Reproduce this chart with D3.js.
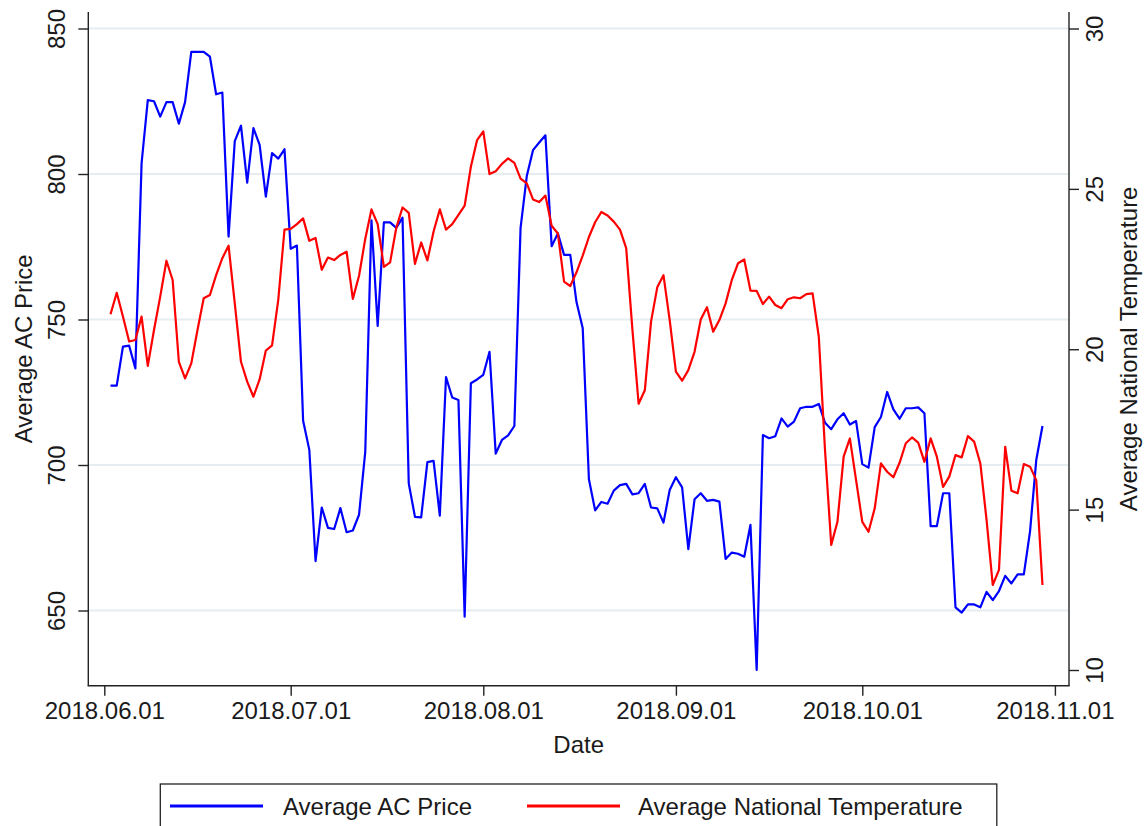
<!DOCTYPE html>
<html><head><meta charset="utf-8">
<script src="https://cdn.jsdelivr.net/npm/d3@7"></script>
<style>
body{margin:0;background:#fff}
svg{display:block}
text{font-family:"Liberation Sans",Arial,sans-serif;fill:#1a1a1a}
</style>
</head><body>
<svg id="chart" width="1148" height="826"></svg>
<script>
// ---------- data ----------
const startDate = "2018-06-02"; // first observation, daily series
const acPrice = [
727.3,727.3,740.7,741.0,733.2,803.7,825.4,825.0,819.7,824.7,
824.7,817.3,824.7,842.0,842.0,842.0,840.3,827.4,828.0,778.5,
811.3,816.6,797.0,815.8,810.0,792.2,807.2,805.3,808.5,774.3,
775.4,715.2,705.2,667.0,685.4,678.4,678.0,685.2,676.9,677.5,
682.9,704.5,784.1,747.8,783.4,783.4,781.5,785.0,693.7,682.2,
682.0,701.0,701.4,682.6,730.2,723.2,722.3,647.9,728.1,729.4,
731.0,738.9,703.9,708.6,710.2,713.4,781.5,799.3,808.2,810.8,
813.3,775.2,779.6,772.2,772.2,756.0,747.1,695.1,684.4,687.3,
686.7,691.2,693.1,693.5,689.9,690.3,693.5,685.4,685.1,680.2,
691.4,695.8,692.3,671.1,688.2,690.3,687.7,688.0,687.4,667.7,
669.9,669.5,668.5,679.4,629.6,710.3,709.2,709.9,716.0,713.2,
714.9,719.5,720.0,720.0,721.0,714.5,712.3,715.7,717.8,713.9,
715.1,700.3,699.1,713.0,716.5,725.1,719.1,715.9,719.5,719.5,
719.8,717.8,679.0,679.0,690.3,690.3,651.1,649.3,652.1,652.1,
651.1,656.4,653.6,656.7,661.9,659.3,662.4,662.4,677.2,701.7,
713.4
];
const temperature = [
21.09,21.76,21.02,20.24,20.29,21.02,19.48,20.60,21.64,22.76,
22.16,19.61,19.09,19.56,20.60,21.59,21.69,22.31,22.84,23.23,
21.43,19.61,18.99,18.52,19.06,19.96,20.12,21.54,23.73,23.75,
23.90,24.08,23.38,23.47,22.48,22.86,22.78,22.94,23.04,21.57,
22.29,23.44,24.36,23.90,22.57,22.71,23.79,24.42,24.25,22.66,
23.33,22.77,23.67,24.36,23.73,23.90,24.19,24.48,25.69,26.52,
26.79,25.46,25.55,25.78,25.95,25.81,25.32,25.17,24.67,24.59,
24.79,23.85,23.61,22.11,21.97,22.40,22.92,23.50,23.96,24.28,
24.17,23.98,23.73,23.15,20.61,18.30,18.72,20.86,21.93,22.31,
20.91,19.30,19.02,19.35,19.92,20.93,21.31,20.55,20.91,21.43,
22.16,22.68,22.80,21.83,21.82,21.41,21.64,21.38,21.28,21.56,
21.62,21.59,21.72,21.74,20.39,16.86,13.90,14.62,16.65,17.22,
15.92,14.62,14.31,15.04,16.44,16.18,16.01,16.46,17.07,17.25,
17.09,16.49,17.22,16.65,15.71,16.03,16.70,16.63,17.29,17.12,
16.44,14.68,12.65,13.12,16.96,15.59,15.51,16.42,16.34,15.92,
12.65
];
const xTickLabels = ["2018.06.01","2018.07.01","2018.08.01","2018.09.01","2018.10.01","2018.11.01"];
const leftTicks = [650,700,750,800,850];
const rightTicks = [10,15,20,25,30];
const seriesNames = ["Average AC Price","Average National Temperature"];
const seriesColors = ["#0000ff","#ff0000"];
const axisTitles = {left:"Average AC Price", right:"Average National Temperature", bottom:"Date"};

// ---------- layout ----------
const plotL = 88.3, plotR = 1069, plotT = 12, plotB = 685.7;
const svg = d3.select("#chart");
const parseDay = d3.timeParse("%Y-%m-%d");
const parseTick = d3.timeParse("%Y.%m.%d");
const fmtTick = d3.timeFormat("%Y.%m.%d");
const t0 = parseDay(startDate);
const dates = acPrice.map((_, i) => d3.timeDay.offset(t0, i));
const tickDates = xTickLabels.map(parseTick);

const x = d3.scaleTime().domain([tickDates[0], tickDates[tickDates.length-1]]).range([104.3, 1054.9]);
const yL = d3.scaleLinear().domain([650, 850]).range([610.5, 28.5]);
const yR = d3.scaleLinear().domain([10, 30]).range([670, 28.5]);

svg.append("rect").attr("width",1148).attr("height",826).attr("fill","#fff");

// gridlines
svg.append("g").selectAll("line").data(leftTicks).join("line")
  .attr("x1", plotL).attr("x2", plotR)
  .attr("y1", d => yL(d)).attr("y2", d => yL(d))
  .attr("stroke", "#e6edf1").attr("stroke-width", 2);

// series
const lineL = d3.line().x((d,i) => x(dates[i])).y(d => yL(d));
const lineR = d3.line().x((d,i) => x(dates[i])).y(d => yR(d));
svg.append("path").datum(acPrice).attr("d", lineL)
  .attr("fill","none").attr("stroke", seriesColors[0]).attr("stroke-width", 2.2).attr("stroke-linejoin","round");
svg.append("path").datum(temperature).attr("d", lineR)
  .attr("fill","none").attr("stroke", seriesColors[1]).attr("stroke-width", 2.2).attr("stroke-linejoin","round");

// axis lines
const axStroke = "#222", axW = 1.4;
svg.append("line").attr("x1",plotL).attr("x2",plotL).attr("y1",plotT).attr("y2",plotB).attr("stroke",axStroke).attr("stroke-width",axW);
svg.append("line").attr("x1",plotR).attr("x2",plotR).attr("y1",plotT).attr("y2",plotB).attr("stroke",axStroke).attr("stroke-width",axW);
svg.append("line").attr("x1",plotL-0.7).attr("x2",plotR+0.7).attr("y1",plotB).attr("y2",plotB).attr("stroke",axStroke).attr("stroke-width",axW);

function styleAxis(g){
  g.select(".domain").remove();
  g.selectAll(".tick line").attr("stroke",axStroke).attr("stroke-width",axW);
  g.selectAll(".tick text").attr("font-size",24).attr("fill","#1a1a1a")
   .attr("font-family","Liberation Sans, Arial, sans-serif");
}

// bottom axis
const gx = svg.append("g").attr("transform",`translate(0,${plotB})`)
  .call(d3.axisBottom(x).tickValues(tickDates).tickFormat(fmtTick).tickSize(10).tickPadding(6));
styleAxis(gx);

// left axis
const gl = svg.append("g").attr("transform",`translate(${plotL},0)`)
  .call(d3.axisLeft(yL).tickValues(leftTicks).tickFormat(d3.format("d")).tickSize(10));
styleAxis(gl);
gl.selectAll(".tick text").attr("x",0).attr("dy",null).attr("text-anchor","middle")
  .attr("transform","translate(-23.3,0) rotate(-90)");

// right axis
const gr = svg.append("g").attr("transform",`translate(${plotR},0)`)
  .call(d3.axisRight(yR).tickValues(rightTicks).tickFormat(d3.format("d")).tickSize(10));
styleAxis(gr);
gr.selectAll(".tick text").attr("x",0).attr("dy",null).attr("text-anchor","middle")
  .attr("transform","translate(34,0) rotate(-90)");

// axis titles
const midY = (plotT + plotB)/2;
svg.append("text").attr("transform",`translate(32,${midY}) rotate(-90)`)
  .attr("text-anchor","middle").attr("font-size",24).text(axisTitles.left);
svg.append("text").attr("transform",`translate(1137,${midY}) rotate(-90)`)
  .attr("text-anchor","middle").attr("font-size",24).text(axisTitles.right);
svg.append("text").attr("x",(plotL+plotR)/2).attr("y",753)
  .attr("text-anchor","middle").attr("font-size",24).text(axisTitles.bottom);

// legend
const lg = svg.append("g");
lg.append("rect").attr("x",160.3).attr("y",784).attr("width",836.5).attr("height",60)
  .attr("fill","#fff").attr("stroke",axStroke).attr("stroke-width",1.3);
const legendPos = [{x1:170,x2:263,tx:283},{x1:527,x2:620,tx:638}];
seriesNames.forEach((name,i) => {
  lg.append("line").attr("x1",legendPos[i].x1).attr("x2",legendPos[i].x2)
    .attr("y1",806).attr("y2",806).attr("stroke",seriesColors[i]).attr("stroke-width",3);
  lg.append("text").attr("x",legendPos[i].tx).attr("y",814.5).attr("font-size",24).text(name);
});
</script>
</body></html>
